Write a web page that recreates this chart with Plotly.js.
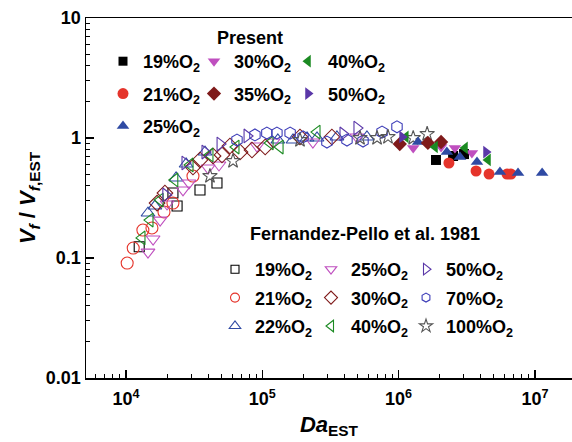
<!DOCTYPE html>
<html><head><meta charset="utf-8">
<script src="https://cdn.plot.ly/plotly-3.0.1.min.js"></script>
<style>html,body{margin:0;padding:0;background:#fff;overflow:hidden}</style>
</head><body><div id="chart" style="width:572px;height:442px"></div>
<script>
// ---- Present study (filled markers) ----
const p19_x = [1.88e6, 2.51e6, 3.02e6];
const p19_y = [0.656, 0.708, 0.735];
const p21_x = [2.34e6, 3.70e6, 4.61e6, 6.24e6, 6.68e6];
const p21_y = [0.619, 0.531, 0.501, 0.501, 0.501];
const p25_x = [1.39e6, 2.26e6, 2.82e6, 3.76e6, 5.54e6, 7.52e6, 1.13e7];
const p25_y = [0.926, 0.764, 0.695, 0.631, 0.521, 0.511, 0.511];
const p30_x = [1.28e6, 2.05e6, 2.59e6, 3.45e6];
const p30_y = [0.826, 0.841, 0.826, 0.75];
const p35_x = [1.02e6, 1.64e6, 2.05e6];
const p35_y = [0.891, 0.909, 0.926];
const p40_x = [1.13e6, 1.85e6, 3.07e6, 4.53e6];
const p40_y = [1.02, 0.841, 0.826, 0.656];
const p50_x = [1.06e6, 4.38e6];
const p50_y = [1.02, 0.764];

// ---- Fernandez-Pello et al. 1981 (open markers) ----
const f19_x = [1.25e4, 2.21e4, 2.37e4, 3.49e4, 4.65e4];
const f19_y = [0.124, 0.348, 0.271, 0.369, 0.422];
const f21_x = [1.02e4, 1.13e4, 1.33e4, 1.55e4, 1.90e4, 2.21e4, 3.10e4];
const f21_y = [0.0908, 0.121, 0.171, 0.178, 0.242, 0.287, 0.482];
const f22_x = [1.45e4, 1.63e4, 2.33e4, 2.76e4, 3.80e4, 1.30e5, 1.68e5, 2.13e5, 2.52e5, 3.53e5, 5.86e5];
const f22_y = [0.237, 0.271, 0.464, 0.607, 0.764, 0.962, 0.962, 1.0, 1.0, 1.02, 1.02];
const f25_x = [1.45e4, 1.58e4, 1.78e4, 2.00e4, 2.62e4, 2.90e4, 4.00e4, 4.81e4, 9.14e4, 1.20e5, 2.35e5, 4.95e5];
const f25_y = [0.112, 0.144, 0.207, 0.282, 0.369, 0.422, 0.562, 0.596, 0.858, 0.926, 0.926, 1.02];
const f30_x = [1.69e4, 1.93e4, 3.10e4, 3.49e4, 4.35e4, 5.06e4, 5.79e4, 6.86e4, 8.40e4, 1.05e5, 1.89e5, 3.24e5];
const f30_y = [0.287, 0.348, 0.573, 0.656, 0.708, 0.722, 0.858, 0.764, 0.794, 0.841, 1.02, 1.02];
const f40_x = [1.31e4, 1.50e4, 1.78e4, 2.28e4, 2.95e4, 4.13e4, 6.41e4, 1.14e5, 1.35e5, 2.52e5];
const f40_y = [0.147, 0.207, 0.304, 0.447, 0.596, 0.722, 0.841, 0.909, 0.841, 1.12];
const f50_x = [1.96e4, 2.71e4, 3.80e4, 4.90e4, 7.73e4, 3.91e5, 4.95e5];
const f50_y = [0.335, 0.619, 0.764, 0.891, 1.04, 1.08, 1.21];
const f70_x = [6.52e4, 8.83e4, 1.08e5, 1.28e5, 1.60e5, 1.99e5, 2.98e5, 4.18e5, 5.48e5, 7.56e5, 9.73e5];
const f70_y = [0.962, 1.06, 1.10, 1.10, 1.10, 1.02, 0.926, 0.962, 0.944, 1.12, 1.24];
const f100_x = [4.13e4, 6.10e4, 1.89e5, 5.21e5, 6.95e5, 8.36e5, 1.28e6, 1.62e6];
const f100_y = [0.482, 0.643, 0.962, 1.0, 1.0, 1.02, 1.0, 1.08];

// ---- axis ticks ----
const xTickVals = [1e4, 1e5, 1e6, 1e7];
const xTickText = ['10<sup>4</sup>', '10<sup>5</sup>', '10<sup>6</sup>', '10<sup>7</sup>'];
const yTickVals = [0.01, 0.1, 1, 10];
const yTickText = ['0.01', '0.1', '1', '10'];

const F = 'Liberation Sans, Arial, sans-serif';
const C = {black:'#000000', red:'#e5342b', blue:'#2f4aa3', mag:'#bf4fbf', dred:'#7f1a1a', green:'#1b8a22', purple:'#5a37a8', hex:'#3d3db8', star:'#555555'};

const O2 = s => s + '%O<sub>2</sub>';
const traces = [];
const legendItems = [];
function addSeries(x, y, pct, sym, col, leg, open, size, legSize) {
  const mk = open
    ? {symbol:sym + '-open', size:size, color:col, line:{color:col, width:1.1}}
    : {symbol:sym, size:size, color:col, line:{width:0}};
  traces.push({x, y, type:'scatter', mode:'markers', showlegend:false, marker:mk, hoverinfo:'skip'});
  // legend-only entry (no data) so the key symbol can be drawn at its own size
  legendItems.push({x:[null], y:[null], type:'scatter', mode:'markers', name:O2(pct),
    legend:leg, legendgroup:leg + pct, marker:Object.assign({}, mk, {size:legSize})});
}

addSeries(f19_x, f19_y, '19', 'square', C.black, 'legend4', true, 10, 8);
addSeries(f21_x, f21_y, '21', 'circle', C.red, 'legend4', true, 12, 9);
addSeries(f22_x, f22_y, '22', 'triangle-up', C.blue, 'legend4', true, 12, 10);
addSeries(f25_x, f25_y, '25', 'triangle-down', C.mag, 'legend5', true, 12, 10);
addSeries(f30_x, f30_y, '30', 'diamond', C.dred, 'legend5', true, 12, 10);
addSeries(f40_x, f40_y, '40', 'triangle-left', C.green, 'legend5', true, 12, 10);
addSeries(f50_x, f50_y, '50', 'triangle-right', C.purple, 'legend6', true, 12, 10);
addSeries(f70_x, f70_y, '70', 'hexagon', C.hex, 'legend6', true, 12, 9);
addSeries(f100_x, f100_y, '100', 'star', C.star, 'legend6', true, 11, 10);
addSeries(p19_x, p19_y, '19', 'square', C.black, 'legend', false, 10, 9);
addSeries(p21_x, p21_y, '21', 'circle', C.red, 'legend', false, 11, 11);
addSeries(p25_x, p25_y, '25', 'triangle-up', C.blue, 'legend', false, 11, 11);
addSeries(p30_x, p30_y, '30', 'triangle-down', C.mag, 'legend2', false, 11, 11);
addSeries(p35_x, p35_y, '35', 'diamond', C.dred, 'legend2', false, 11, 11);
addSeries(p40_x, p40_y, '40', 'triangle-left', C.green, 'legend3', false, 11, 11);
addSeries(p50_x, p50_y, '50', 'triangle-right', C.purple, 'legend3', false, 11, 11);

const ML = 86, MT = 18, PW = 486, PH = 360;
function leg(xpx, ypx, gap) {
  return {x:(xpx-ML)/PW, y:(MT+PH-ypx)/PH, xanchor:'left', yanchor:'top',
    bgcolor:'rgba(0,0,0,0)', borderwidth:0, traceorder:'grouped', tracegroupgap:gap,
    font:{family:F, size:18, weight:'bold', color:'#000'}, itemclick:false, itemdoubleclick:false};
}

const layout = {
  width:572, height:442,
  margin:{l:ML, r:0, t:MT, b:64, pad:0},
  paper_bgcolor:'#fff', plot_bgcolor:'#fff',
  font:{family:F, size:18, color:'#000', weight:'bold'},
  xaxis:{type:'log', range:[Math.log10(1e4)-40/136.3, Math.log10(1e4)-40/136.3+PW/136.3],
    tickmode:'array', tickvals:xTickVals, ticktext:xTickText,
    ticks:'inside', ticklen:8, tickwidth:1.2, tickcolor:'#000', ticklabelstandoff:4,
    showline:true, linecolor:'#000', linewidth:1.5, mirror:true,
    showgrid:false, zeroline:false,
    tickfont:{family:F, size:18, weight:'bold', color:'#000'},
    minor:{tickmode:'linear', dtick:'D1', ticks:'inside', ticklen:4, tickwidth:1, tickcolor:'#000', showgrid:false},
    title:{text:'<i>Da</i><sub>EST</sub>', font:{family:F, size:22, weight:'bold'}, standoff:8},
    automargin:false},
  yaxis:{type:'log', range:[-2, 1],
    tickmode:'array', tickvals:yTickVals, ticktext:yTickText,
    ticks:'inside', ticklen:8, tickwidth:1.2, tickcolor:'#000',
    showline:true, linecolor:'#000', linewidth:1.5, mirror:false,
    showgrid:false, zeroline:false,
    tickfont:{family:F, size:18, weight:'bold', color:'#000'},
    minor:{tickmode:'linear', dtick:'D1', ticks:'inside', ticklen:4, tickwidth:1, tickcolor:'#000', showgrid:false},
    title:{text:'<i>V<sub>f</sub></i> / <i>V</i><sub><i>f</i>,EST</sub>', font:{family:F, size:22, weight:'bold'}, standoff:4},
    automargin:false},
  showlegend:true,
  legend: leg(103, 43, 6),
  legend2: leg(194, 43, 6),
  legend3: leg(288, 43, 6),
  legend4: leg(215, 251, 2),
  legend5: leg(311, 251, 2),
  legend6: leg(406, 251, 2),
  annotations:[
    {xref:'paper', yref:'paper', x:(250-ML)/PW, y:(MT+PH-38)/PH, xanchor:'center', yanchor:'middle',
     text:'Present', showarrow:false, font:{family:F, size:18, weight:'bold', color:'#000'}},
    {xref:'paper', yref:'paper', x:(248-ML)/PW, y:(MT+PH-234)/PH, xanchor:'left', yanchor:'middle',
     text:'Fernandez-Pello et al. 1981', showarrow:false, font:{family:F, size:18, weight:'bold', color:'#000'}}
  ]
};

Plotly.newPlot('chart', traces.concat(legendItems), layout, {staticPlot:true, displayModeBar:false});
</script></body></html>
